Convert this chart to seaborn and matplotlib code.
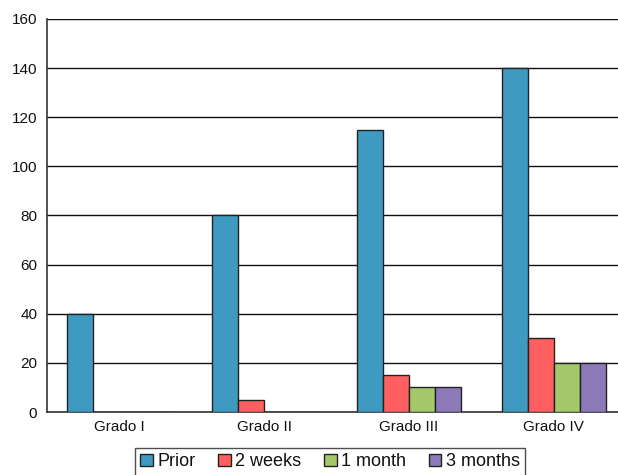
import matplotlib
matplotlib.use("Agg")
import matplotlib.pyplot as plt
import seaborn as sns
import pandas as pd

categories = ["Grado I", "Grado II", "Grado III", "Grado IV"]
series = ["Prior", "2 weeks", "1 month", "3 months"]
prior = [40, 80, 115, 140]
two_weeks = [0, 5, 15, 30]
one_month = [0, 0, 10, 20]
three_months = [0, 0, 10, 20]
y_ticks = [0, 20, 40, 60, 80, 100, 120, 140, 160]

colors = ["#3F9AC2", "#FF5F5F", "#A4C96A", "#8C79B7"]

rows = []
for name, vals in zip(series, [prior, two_weeks, one_month, three_months]):
    for cat, v in zip(categories, vals):
        rows.append({"grade": cat, "period": name, "value": v})
df = pd.DataFrame(rows)

sns.set_style("white")
plt.rcParams["font.family"] = ["Liberation Sans", "DejaVu Sans"]
plt.rcParams["text.color"] = "#111111"
plt.rcParams["xtick.color"] = "#111111"
plt.rcParams["ytick.color"] = "#111111"

fig = plt.figure(figsize=(6.18, 4.75), dpi=100)
ax = fig.add_axes([47 / 618, 63 / 475, (626 - 47) / 618, (412 - 19) / 475])

sns.barplot(data=df, x="grade", y="value", hue="period", order=categories,
            hue_order=series, palette=colors, width=0.72, edgecolor="#222222",
            linewidth=1.0, saturation=1, ax=ax, legend=False, zorder=3)

ax.set_ylim(0, 160)
ax.set_xlim(-0.5, 3.5)
ax.set_yticks(y_ticks)
ax.set_yticklabels([str(t) for t in y_ticks], fontsize=11)
ax.yaxis.grid(True, color="#111111", linewidth=1.0, zorder=0)
ax.set_axisbelow(True)
ax.set_xlabel("")
ax.set_ylabel("")

ax.set_xticks(range(len(categories)))
ax.set_xticklabels(categories, fontsize=11)
ax.tick_params(axis="x", which="major", length=0, pad=6)
ax.set_xticks([-0.5, 0.5, 1.5, 2.5, 3.5], minor=True)
ax.tick_params(axis="x", which="minor", length=5, width=1, color="#333333", direction="out")
ax.tick_params(axis="y", length=5, width=1, color="#333333", direction="out", pad=2)

for side in ["top", "right"]:
    ax.spines[side].set_visible(False)
for side in ["left", "bottom"]:
    ax.spines[side].set_color("#333333")
    ax.spines[side].set_linewidth(1.2)

handles = [plt.Rectangle((0, 0), 1, 1, facecolor=c, edgecolor="#222222", linewidth=1.0)
           for c in colors]
leg = fig.legend(handles, series, loc="upper center", bbox_to_anchor=(330 / 618, 27 / 475),
                 ncol=4, fontsize=13, frameon=True, fancybox=False,
                 handlelength=0.7, handleheight=0.7, handletextpad=0.25,
                 columnspacing=1.25, borderpad=0.3, borderaxespad=0)
leg.get_frame().set_edgecolor("#222222")
leg.get_frame().set_linewidth(1.0)

fig.savefig("out.png", dpi=100)
